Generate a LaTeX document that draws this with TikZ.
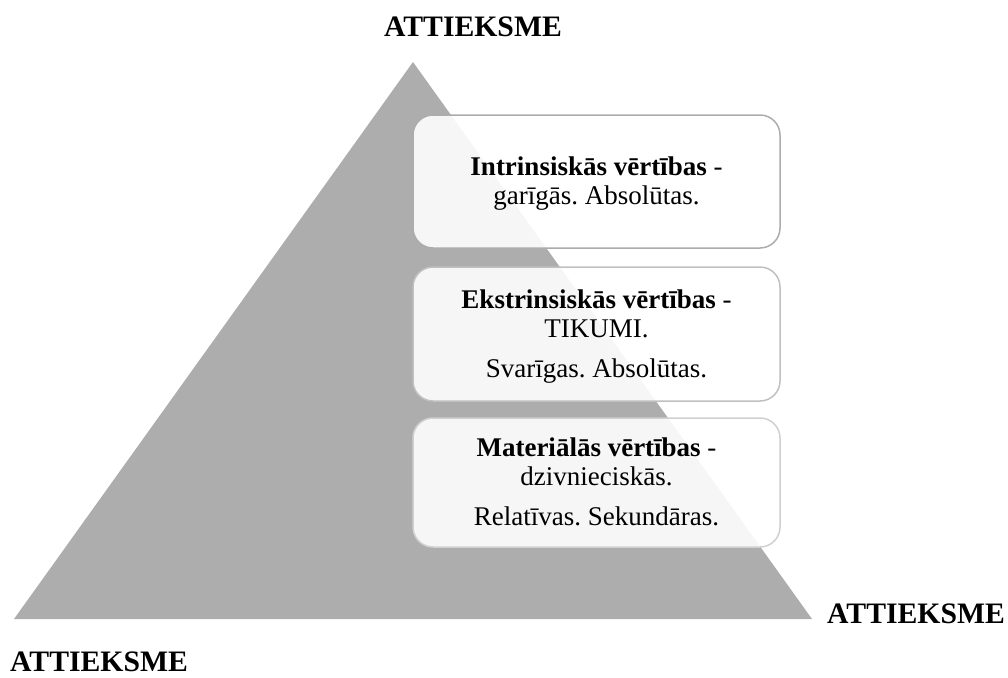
\documentclass[tikz,border=0pt]{standalone}
\usepackage{fontspec}
\setmainfont{Liberation Serif}
\frenchspacing
\newcommand{\boxtext}[1]{\raisebox{-3pt}[\height][\depth]{\begin{tabular}{@{}c@{}}#1\end{tabular}}}
\begin{document}
\begin{tikzpicture}[x=1pt,y=-1pt,
  valbox/.style={draw=#1, line width=1.5pt, rounded corners=20pt, fill=white, fill opacity=0.9, text opacity=1,
    minimum width=367pt, inner sep=0pt, align=center, font=\fontsize{27}{29}\selectfont},
  lbl/.style={inner sep=0pt, font=\fontsize{29.7}{32}\selectfont\bfseries}]
\definecolor{tri}{HTML}{ADADAD}
\definecolor{b1}{HTML}{ACACAC}
\definecolor{b2}{HTML}{C0C0C0}
\definecolor{b3}{HTML}{D0D0D0}
\useasboundingbox (0,0) rectangle (1008,677);
\coordinate (apex) at (413,62);
\coordinate (br) at (812,619);
\coordinate (bl) at (14,619);
\fill[tri] (apex) -- (br) -- (bl) -- cycle;
\node[valbox=b1, minimum height=133pt] (v1) at (596.5,181.5)
  {\boxtext{\textbf{Intrinsiskās vērtības} -\\garīgās. Absolūtas.}};
\node[valbox=b2, minimum height=134pt] (v2) at (596.5,334)
  {\boxtext{\textbf{Ekstrinsiskās vērtības} -\\TIKUMI.\\[11pt]Svarīgas. Absolūtas.}};
\node[valbox=b3, minimum height=129pt] (v3) at (596.5,482.5)
  {\boxtext{\textbf{Materiālās vērtības} -\\dzivnieciskās.\\[11pt]Relatīvas. Sekundāras.}};
\node[lbl, anchor=base] (ltop) at (473,37) {ATTIEKSME};
\node[lbl, anchor=base west] (lright) at (827,623) {ATTIEKSME};
\node[lbl, anchor=base west] (lleft) at (10,671) {ATTIEKSME};
\end{tikzpicture}
\end{document}
